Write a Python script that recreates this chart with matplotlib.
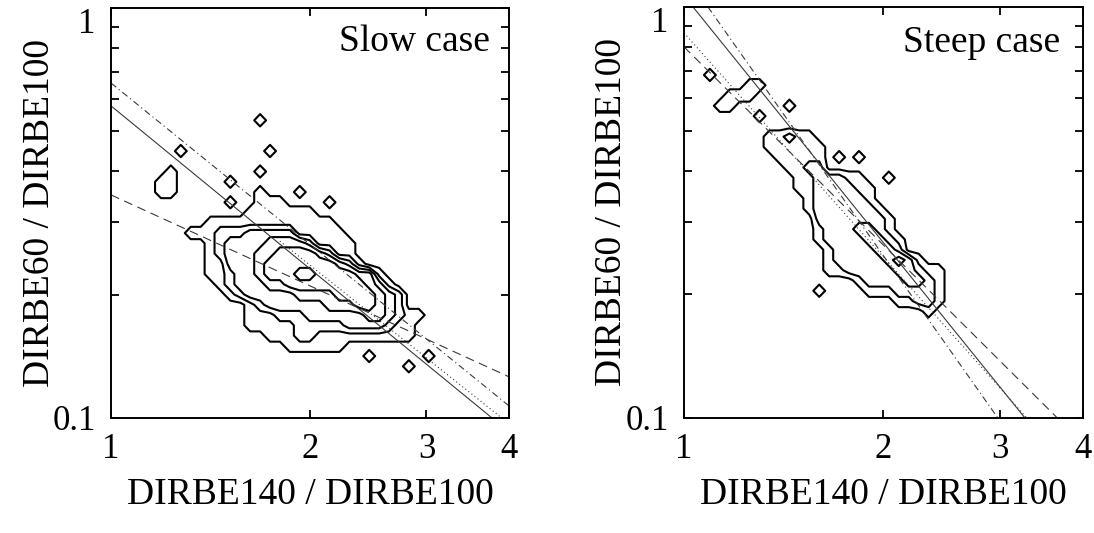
import numpy as np
import matplotlib
matplotlib.use("Agg")
import matplotlib.pyplot as plt
import matplotlib.transforms as mtransforms
from matplotlib.ticker import FixedLocator, NullFormatter, NullLocator

plt.rcParams['font.family'] = ['Liberation Serif', 'DejaVu Serif']

# axis ticks
x_ticks = [1, 2, 3, 4]
x_labels = ['1', '2', '3', '4']
y_ticks = [0.1, 1]
y_labels = ['0.1', '1']
y_minor = [0.2, 0.3, 0.4, 0.5, 0.6, 0.7, 0.8, 0.9]

# pixel-count maps (rows top -> bottom)
# cell centres: log10(x) = lx0 + 0.015*col, log10(y) = ly0 - 0.025*row
slow_lx0, slow_ly0 = 0.0605, -0.249
slow_counts = [
    "000000000000000000000000000000",
    "000000000001000000000000000000",
    "000000000000000000000000000000",
    "000000000000000000000000000000",
    "000100000000100000000000000000",
    "000000000000000000000000000000",
    "001000000001000000000000000000",
    "011000001000000000000000000000",
    "011000000001000100000000000000",
    "000000001001110000100000000000",
    "000000000011111110000000000000",
    "000000111111111111100000000000",
    "000011122233333111110000000000",
    "000000123333444431111000000000",
    "000000123334455554311000000000",
    "000000113334555555543100000000",
    "000000112334555665555441000000",
    "000000012333445555555543100000",
    "000000001233333444455554320000",
    "000000000012333333444554320000",
    "000000000011122233333344321100",
    "000000000011111222223333211000",
    "000000000000111221111111111000",
    "000000000000001111110000000000",
    "000000000000000000000010000010",
    "000000000000000000000000001000",
]

steep_lx0, steep_ly0 = 0.0241, -0.1655
steep_counts = [
    "01000000000000000000000000",
    "00000110000000000000000000",
    "00011100000000000000000000",
    "00110000010000000000000000",
    "00000010000000000000000000",
    "00000000000000000000000000",
    "00000001121100000000000000",
    "00000001111110000000000000",
    "00000000111110101000000000",
    "00000000011220000000000000",
    "00000000001122211001000000",
    "00000000001122221100000000",
    "00000000000122222100000000",
    "00000000000122222210000000",
    "00000000000022222221000000",
    "00000000000012223321000000",
    "00000000000012222332100000",
    "00000000000001222233200000",
    "00000000000001222223431000",
    "00000000000001122222332110",
    "00000000000000001222233210",
    "00000000000010000111222210",
    "00000000000000000000112210",
    "00000000000000000000000100",
    "00000000000000000000000000",
]

# fitted relations: (x_start, y_start, x_end, y_end)
slow_solid = (1.0, 0.577, 3.77, 0.1)
slow_dashdot = (1.0, 0.656, 4.0, 0.107)
slow_dashed = (1.0, 0.35, 4.0, 0.126)
slow_dotted = (1.8, 0.27, 3.9, 0.1)

steep_solid = (1.032, 1.0, 3.27, 0.1)
steep_dashdot = (1.087, 1.0, 2.976, 0.1)
steep_dotted = (1.0, 0.865, 3.29, 0.1)
steep_dashed = (1.0, 0.80, 3.66, 0.1)

levels = [0.4, 1.4, 2.4, 3.4, 4.4, 5.4]


def draw_counts(ax, rows, lx0, ly0):
    z = np.array([[int(ch) for ch in r] for r in rows], dtype=float)
    z = np.pad(z, 1)
    ncol = z.shape[1]
    nrow = z.shape[0]
    lx = lx0 + 0.015 * (np.arange(ncol) - 1)
    ly = ly0 - 0.025 * (np.arange(nrow) - 1)
    X, Y = np.meshgrid(10 ** lx, 10 ** ly)
    ax.contour(X, Y, z, levels=levels, colors='k', linewidths=1.5)


def draw_line(ax, seg, ls):
    ax.plot([seg[0], seg[2]], [seg[1], seg[3]], color='#3a3a3a', lw=0.8,
            linestyle=ls)


def style(ax, title, tx, ty):
    ax.set_xscale('log')
    ax.set_yscale('log')
    ax.set_xlim(1, 4)
    ax.set_ylim(0.1, 1)
    ax.xaxis.set_major_locator(FixedLocator(x_ticks))
    ax.set_xticklabels(x_labels)
    ax.xaxis.set_minor_locator(NullLocator())
    ax.yaxis.set_major_locator(FixedLocator(y_ticks))
    ax.set_yticklabels(y_labels)
    ax.yaxis.set_minor_locator(FixedLocator(y_minor))
    ax.yaxis.set_minor_formatter(NullFormatter())
    ax.tick_params(which='both', direction='in', top=True, right=True,
                   length=6, width=1.3, labelsize=25)
    ax.tick_params(axis='x', pad=11)
    ax.tick_params(axis='y', pad=11)
    for s in ax.spines.values():
        s.set_linewidth(1.4)
    # the top label "1" sits a little below the frame corner
    top = ax.get_yticklabels()[1]
    top.set_transform(top.get_transform() + mtransforms.ScaledTranslation(
        0, -9 / 72, ax.figure.dpi_scale_trans))
    ax.set_xlabel('DIRBE140 / DIRBE100', fontsize=27)
    ax.xaxis.set_label_coords(0.5, -0.145)
    ax.set_ylabel('DIRBE60 / DIRBE100', fontsize=27)
    ax.yaxis.set_label_coords(-0.137, 0.5)
    ax.text(tx, ty, title, transform=ax.transAxes, ha='right',
            va='center', fontsize=27)


fig = plt.figure(figsize=(10.94, 5.33), dpi=100)
ax1 = fig.add_axes([0.1015, 0.2158, 0.3638, 0.7692])
ax2 = fig.add_axes([0.6252, 0.2158, 0.3647, 0.7711])

draw_counts(ax1, slow_counts, slow_lx0, slow_ly0)
draw_line(ax1, slow_solid, '-')
draw_line(ax1, slow_dashdot, (0, (6, 3, 1, 3)))
draw_line(ax1, slow_dashed, (0, (8, 5)))
draw_line(ax1, slow_dotted, (0, (1, 2.5)))
style(ax1, 'Slow case', 0.952, 0.917)

draw_counts(ax2, steep_counts, steep_lx0, steep_ly0)
draw_line(ax2, steep_solid, '-')
draw_line(ax2, steep_dashdot, (0, (6, 3, 1, 3)))
draw_line(ax2, steep_dashed, (0, (8, 5)))
draw_line(ax2, steep_dotted, (0, (1, 2.5)))
style(ax2, 'Steep case', 0.942, 0.912)

fig.savefig('out.png', dpi=100)
